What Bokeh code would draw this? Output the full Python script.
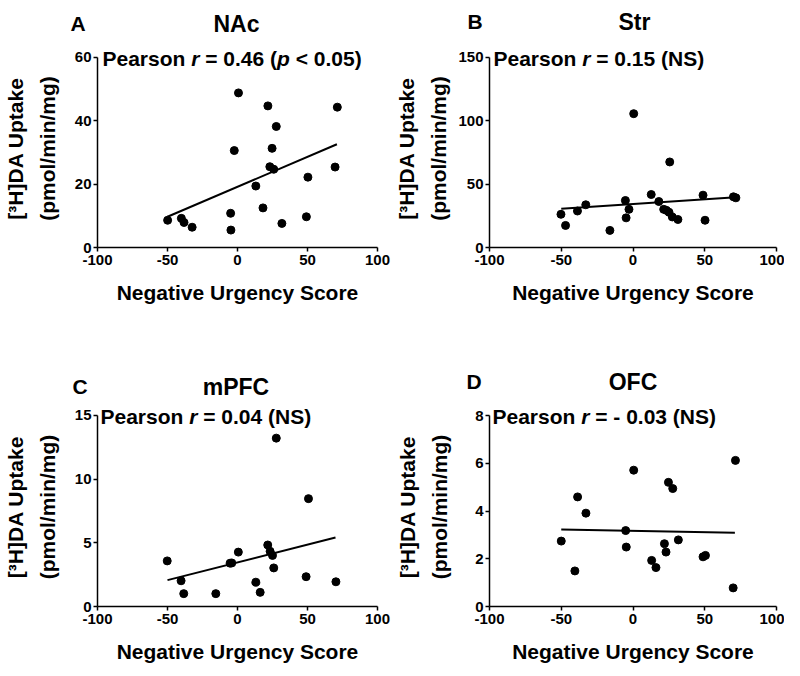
import math
from bokeh.plotting import figure
from bokeh.models import Range1d, FixedTicker, Label
from bokeh.layouts import gridplot
from bokeh.embed import file_html
from bokeh.resources import INLINE

# ---------------- data ----------------
x_ticks = [-100, -50, 0, 50, 100]

nac_x = [-49.9, -40.1, -38.2, -32.4, -4.9, -4.7, -2.3, 0.7, 13.1, 18.2,
         21.7, 23.1, 24.7, 25.9, 27.7, 31.7, 49.2, 50.3, 69.7, 71.3]
nac_y = [8.6, 9.2, 7.9, 6.4, 10.8, 5.5, 30.6, 48.8, 19.4, 12.5,
         44.7, 25.5, 31.3, 24.7, 38.2, 7.6, 9.7, 22.2, 25.4, 44.3]
nac_fit_x = [-50, 71]
nac_fit_y = [9.7, 32.6]
nac_yticks = [0, 20, 40, 60]

str_x = [-50.2, -47.0, -38.7, -32.9, -16.1, -5.3, -4.8, -2.8, 0.5, 12.7, 18.0,
         21.4, 23.3, 25.1, 25.6, 27.4, 31.3, 48.8, 50.2, 70.0, 71.7]
str_y = [26.2, 17.4, 28.8, 33.7, 13.5, 37.1, 23.4, 30.1, 105.6, 41.8, 36.3,
         30.1, 29.3, 27.8, 67.5, 24.1, 22.1, 41.3, 21.5, 40.0, 39.2]
str_fit_x = [-50, 71.7]
str_fit_y = [30.6, 39.7]
str_yticks = [0, 50, 100, 150]

mpfc_x = [-50.2, -40.3, -38.4, -15.5, -5.3, -4.1, 0.6, 13.1, 16.2,
          21.6, 23.3, 25.0, 25.9, 27.7, 49.0, 50.7, 70.3]
mpfc_y = [3.58, 2.02, 1.01, 1.01, 3.40, 3.42, 4.27, 1.91, 1.11,
          4.83, 4.33, 4.01, 3.03, 13.22, 2.34, 8.47, 1.94]
mpfc_fit_x = [-50, 70]
mpfc_fit_y = [2.07, 5.42]
mpfc_yticks = [0, 5, 10, 15]

ofc_x = [-50.0, -40.5, -38.6, -32.8, -5.1, -4.7, 0.5, 13.0, 16.0,
         21.9, 23.0, 24.7, 27.7, 31.6, 48.8, 50.5, 69.8, 71.4]
ofc_y = [2.74, 1.49, 4.59, 3.91, 3.18, 2.49, 5.71, 1.93, 1.63,
         2.63, 2.28, 5.20, 4.94, 2.79, 2.08, 2.14, 0.78, 6.12]
ofc_fit_x = [-50, 71]
ofc_fit_y = [3.23, 3.09]
ofc_yticks = [0, 2, 4, 6, 8]

letters = ["A", "B", "C", "D"]
titles = ["NAc", "Str", "mPFC", "OFC"]
pearson = [
    [("Pearson ", False), ("r", True), (" = 0.46 (", False), ("p", True), (" < 0.05)", False)],
    [("Pearson ", False), ("r", True), (" = 0.15 (NS)", False)],
    [("Pearson ", False), ("r", True), (" = 0.04 (NS)", False)],
    [("Pearson ", False), ("r", True), (" = - 0.03 (NS)", False)],
]
x_title = "Negative Urgency Score"
y_title = "[\u00b3H]DA Uptake\n(pmol/min/mg)"

# ---------------- style ----------------
FONT = "Liberation Sans"
# Arial/Liberation Sans Bold advance widths (per 1000 em)
WID = {"P": 667, "e": 556, "a": 556, "r": 389, "s": 556, "o": 611, "n": 611,
       " ": 278, "=": 584, ".": 278, "(": 333, ")": 333, "p": 611, "<": 584,
       "N": 722, "S": 667, "-": 333}
PAD = 8  # frame extends this many pixels above the top y tick (axis line is bounded)


def tw(s, size):
    return sum(WID.get(c, 556) for c in s) / 1000.0 * size


def panel(idx, xs, ys, fx, fy, ymax, yticks, H, L, R, T, B,
          head_base, letter_x, pear_dx, ylab_standoff):
    span = H - T - B
    p = figure(width=392, height=H, x_range=Range1d(-100, 100),
               y_range=Range1d(0, ymax * (span + PAD) / span),
               output_backend="svg",
               toolbar_location=None, min_border_left=L, min_border_right=R,
               min_border_top=T - PAD, min_border_bottom=B)
    p.outline_line_color = None
    p.grid.visible = False
    p.background_fill_color = "white"
    p.border_fill_color = "white"
    for ax in (p.xaxis[0], p.yaxis[0]):
        ax.axis_line_width = 1.5
        ax.axis_line_color = "black"
        ax.major_tick_line_color = "black"
        ax.major_tick_line_width = 1.5
        ax.major_tick_in = 0
        ax.major_tick_out = 4
        ax.minor_tick_line_color = None
        ax.major_label_text_font = FONT
        ax.major_label_text_font_style = "bold"
        ax.major_label_text_font_size = "15px"
        ax.major_label_text_color = "black"
        ax.axis_label_text_font = FONT
        ax.axis_label_text_font_style = "bold"
        ax.axis_label_text_font_size = "21px"
        ax.axis_label_text_color = "black"
    p.xaxis.ticker = FixedTicker(ticks=x_ticks)
    p.xaxis.major_label_overrides = {t: str(t) for t in x_ticks}
    p.yaxis.ticker = FixedTicker(ticks=yticks)
    p.yaxis.bounds = (0, ymax)
    p.xaxis.major_label_standoff = 3
    p.yaxis.major_label_standoff = 2
    p.xaxis.axis_label = x_title
    p.xaxis.axis_label_standoff = 13
    p.yaxis.axis_label = y_title
    p.yaxis.axis_label_standoff = ylab_standoff
    p.yaxis.axis_label_text_line_height = 1.4

    p.line(fx, fy, line_color="black", line_width=2)
    p.scatter(xs, ys, size=8, color="black")

    def lab(x, y, text, size, place=None, **kw):
        lbl = Label(x=x, y=y, text=text, text_font=FONT,
                    text_font_style=kw.pop("style", "bold"),
                    text_font_size=size, text_color="black", **kw)
        if place is None:
            p.add_layout(lbl)
        else:
            p.add_layout(lbl, place)

    # panel letter and region name, placed in the top side panel (figure pixels)
    frame_mid = L + (392 - L - R) / 2
    lab(letter_x, head_base, letters[idx], "21px", place="above",
        x_units="canvas", y_units="canvas",
        text_align="left", text_baseline="alphabetic")
    lab(frame_mid, head_base, titles[idx], "23px", place="above",
        x_units="canvas", y_units="canvas",
        text_align="center", text_baseline="alphabetic")

    cum = 0.0
    for s, it in pearson[idx]:
        stripped = s.lstrip(" ")
        lead = tw(s[:len(s) - len(stripped)], 21)
        lab(-100, ymax, stripped, "21px", x_offset=pear_dx + cum + lead,
            y_offset=-1, text_align="left", text_baseline="alphabetic",
            style="bold italic" if it else "bold")
        cum += tw(s, 21)
    return p


pa = panel(0, nac_x, nac_y, nac_fit_x, nac_fit_y, 60, nac_yticks, 330, 93, 13, 55, 83, 23, 70, 5, 13)
pb = panel(1, str_x, str_y, str_fit_x, str_fit_y, 150, str_yticks, 330, 97, 5, 55, 83, 21, 75, 4, 5)
pc = panel(2, mpfc_x, mpfc_y, mpfc_fit_x, mpfc_fit_y, 15, mpfc_yticks, 344, 94, 15, 85, 67, 56, 72, 3, 13)
pd = panel(3, ofc_x, ofc_y, ofc_fit_x, ofc_fit_y, 8, ofc_yticks, 344, 97, 8, 85, 68, 51, 74, 3, 21)

grid = gridplot([[pa, pb], [pc, pd]], toolbar_location=None)
open("out.html", "w").write(file_html(grid, INLINE))
